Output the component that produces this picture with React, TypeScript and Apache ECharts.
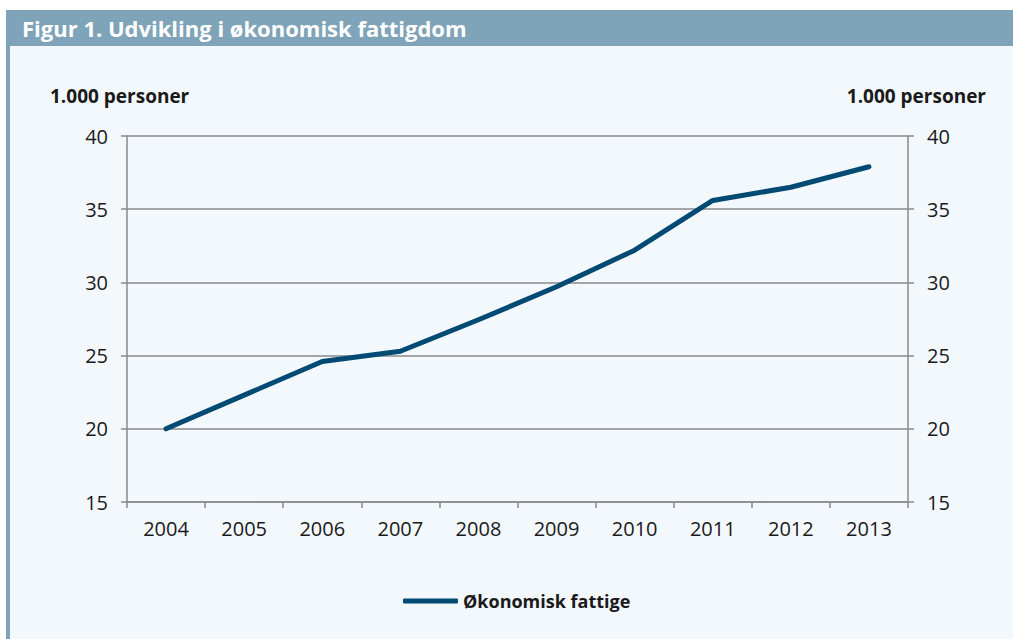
import React, { useEffect, useRef } from "react";
import * as echarts from "echarts";

const years = ["2004", "2005", "2006", "2007", "2008", "2009", "2010", "2011", "2012", "2013"];
const fattige = [20.0, 22.3, 24.6, 25.3, 27.45, 29.7, 32.2, 35.6, 36.5, 37.9];
const seriesName = "Økonomisk fattige";
const titleText = "Figur 1. Udvikling i økonomisk fattigdom";
const unitText = "1.000 personer";

const FONT = "'Open Sans', 'Noto Sans', sans-serif";
const GRAY = "#8a8a8a";
const LINE = "#004a73";
const BAR = "#7fa3b8";
const PANEL = "#f3f8fd";

export default function App() {
  const ref = useRef<HTMLDivElement>(null);
  useEffect(() => {
    document.body.style.margin = "0";
    if (!ref.current) return;
    const chart = echarts.init(ref.current, null, { renderer: "svg" });
    const yCommon = {
      type: "value" as const,
      min: 15,
      max: 40,
      interval: 5,
      axisLine: { show: true, lineStyle: { color: GRAY, width: 1.5 } },
      axisTick: { show: true, length: 6, lineStyle: { color: GRAY, width: 1.5 } },
      axisLabel: { fontFamily: FONT, fontSize: 20, color: "#1a1a1a", margin: 19 },
    };
    chart.setOption({
      animation: false,
      backgroundColor: "#ffffff",
      textStyle: { fontFamily: FONT },
      graphic: [
        { type: "rect", z: -10, shape: { x: 10, y: 46, width: 1003, height: 593 }, style: { fill: PANEL } },
        { type: "rect", z: -9, shape: { x: 6, y: 10, width: 1007, height: 36 }, style: { fill: BAR } },
        { type: "rect", z: -9, shape: { x: 6, y: 10, width: 4, height: 629 }, style: { fill: BAR } },
        {
          type: "text", x: 22, y: 28,
          style: { text: titleText, fill: "#ffffff", font: `bold 22px ${FONT}`, verticalAlign: "middle", textAlign: "left" },
        },
        {
          type: "text", x: 50, y: 96,
          style: { text: unitText, fill: "#1a1a1a", font: `bold 19px ${FONT}`, verticalAlign: "middle", textAlign: "left" },
        },
        {
          type: "text", x: 986, y: 96,
          style: { text: unitText, fill: "#1a1a1a", font: `bold 19px ${FONT}`, verticalAlign: "middle", textAlign: "right" },
        },
      ],
      grid: { left: 127, right: 105, top: 136, bottom: 137 },
      legend: {
        show: true,
        left: 398,
        top: 587,
        icon: "roundRect",
        itemWidth: 55,
        itemHeight: 5,
        textStyle: { fontFamily: FONT, fontSize: 18, fontWeight: "bold", color: "#1a1a1a" },
        data: [seriesName],
      },
      xAxis: {
        type: "category",
        data: years,
        boundaryGap: true,
        axisLine: { lineStyle: { color: GRAY, width: 1.5 } },
        axisTick: { show: true, length: 6, lineStyle: { color: GRAY, width: 1.5 } },
        axisLabel: { fontFamily: FONT, fontSize: 20, color: "#1a1a1a", margin: 16 },
        splitLine: { show: false },
      },
      yAxis: [
        { ...yCommon, position: "left", splitLine: { show: true, lineStyle: { color: GRAY, width: 1.5 } } },
        { ...yCommon, position: "right", splitLine: { show: false } },
      ],
      series: [
        {
          name: seriesName,
          type: "line",
          data: fattige,
          yAxisIndex: 0,
          symbol: "none",
          lineStyle: { color: LINE, width: 5, cap: "round", join: "round" },
          itemStyle: { color: LINE },
        },
      ],
    });
    return () => chart.dispose();
  }, []);
  return <div ref={ref} style={{ width: 1013, height: 639 }} />;
}
